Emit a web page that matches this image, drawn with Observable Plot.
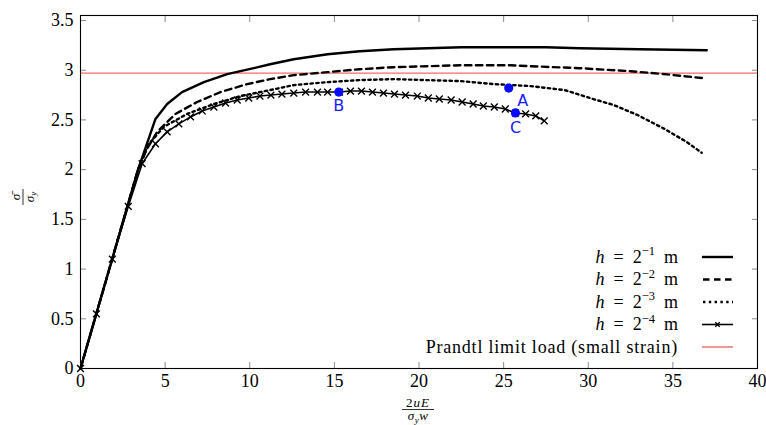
<!DOCTYPE html>
<html><head><meta charset="utf-8">
<script src="https://cdn.jsdelivr.net/npm/d3@7"></script>
<script src="https://cdn.jsdelivr.net/npm/@observablehq/plot@0.6"></script>
<style>body{margin:0;background:#fff} svg{display:block}</style>
</head><body>
<script>
// ---- tick values / labels ----
const xTicks = [0, 5, 10, 15, 20, 25, 30, 35, 40];
const yTicks = [0, 0.5, 1, 1.5, 2, 2.5, 3, 3.5];
const yTickLabels = ["0", "0.5", "1", "1.5", "2", "2.5", "3", "3.5"];

// ---- series ----
const h1X = [0, 3.4, 4.43, 5.12, 6.0, 7.29, 8.67, 10.24, 11.2, 12.6, 14.6, 16.5, 18.5, 20.5, 22.5, 25.4, 27.5, 29.5, 33.0, 37.0];
const h1Y = [0, 2.0, 2.51, 2.66, 2.78, 2.88, 2.96, 3.02, 3.06, 3.11, 3.16, 3.19, 3.21, 3.22, 3.23, 3.23, 3.23, 3.22, 3.21, 3.20];

const h2X = [0, 3.4, 3.9, 4.53, 5.61, 6.89, 8.27, 9.85, 11.2, 12.6, 14.6, 16.5, 18.5, 20.5, 22.5, 25.4, 26.6, 29.5, 32.5, 34.5, 36.8];
const h2Y = [0, 2.0, 2.2, 2.38, 2.56, 2.68, 2.78, 2.86, 2.91, 2.95, 2.98, 3.01, 3.03, 3.04, 3.05, 3.05, 3.04, 3.02, 2.99, 2.96, 2.92];

const h3X = [0, 3.4, 4.0, 4.92, 6.3, 7.88, 9.45, 11.2, 12.6, 14.6, 16.5, 18.5, 20.5, 22.5, 24.4, 26.6, 28.6, 30.1, 31.5, 32.9, 34.5, 35.8, 36.7];
const h3Y = [0, 2.0, 2.25, 2.43, 2.56, 2.66, 2.74, 2.80, 2.85, 2.88, 2.90, 2.91, 2.90, 2.89, 2.86, 2.84, 2.80, 2.72, 2.65, 2.55, 2.41, 2.28, 2.17];

const h4X = [0, 0.94, 1.88, 2.82, 3.64, 4.43, 5.12, 5.81, 6.5, 7.19, 7.88, 8.57, 9.26, 9.94, 10.6, 11.25, 11.9, 12.6, 13.3, 14.0, 14.6, 15.3, 15.95, 16.6, 17.25, 17.9, 18.55, 19.2, 19.9, 20.55, 21.2, 21.9, 22.55, 23.2, 23.8, 24.45, 25.1, 25.7, 26.3, 26.9, 27.4];
const h4Y = [0, 0.55, 1.1, 1.63, 2.06, 2.26, 2.38, 2.46, 2.53, 2.59, 2.63, 2.67, 2.70, 2.72, 2.74, 2.75, 2.76, 2.77, 2.78, 2.78, 2.78, 2.78, 2.79, 2.79, 2.78, 2.77, 2.76, 2.75, 2.74, 2.72, 2.71, 2.70, 2.68, 2.66, 2.64, 2.63, 2.61, 2.57, 2.56, 2.54, 2.49];

const prandtl = 2.97;

const pointLabels = ["A", "B", "C"];
const pointX = [25.3, 15.26, 25.7];
const pointY = [2.82, 2.78, 2.57];

const legendExps = ["−1", "−2", "−3", "−4"];
const legendPrandtl = "Prandtl limit load (small strain)";

// ---- build tables ----
const toRows = (xs, ys) => xs.map((x, i) => ({x, y: ys[i]}));
const rows1 = toRows(h1X, h1Y), rows2 = toRows(h2X, h2Y), rows3 = toRows(h3X, h3Y), rows4 = toRows(h4X, h4Y);
const pts = pointLabels.map((l, i) => ({label: l, x: pointX[i], y: pointY[i]}));

const tickStroke = "#8a8a8a";
const serif = "'Liberation Serif', 'DejaVu Serif', serif";
const sans = "'DejaVu Sans', sans-serif";
const blue = "#1a1aff";

const chart = Plot.plot({
  width: 766, height: 425,
  marginLeft: 80, marginRight: 9, marginTop: 15, marginBottom: 57,
  style: {fontFamily: serif, fontSize: "18px", background: "white", color: "black", overflow: "visible"},
  x: {domain: [0, 40]},
  y: {domain: [0, 3.55]},
  marks: [
    // inward ticks on all sides
    Plot.axisX(xTicks, {anchor: "bottom", tickSize: -6, tickFormat: () => "", label: null, stroke: tickStroke}),
    Plot.axisX(xTicks, {anchor: "top", tickSize: -6, tickFormat: () => "", label: null, stroke: tickStroke}),
    Plot.axisY(yTicks, {anchor: "left", tickSize: -6, tickFormat: () => "", label: null, stroke: tickStroke}),
    Plot.axisY(yTicks, {anchor: "right", tickSize: -6, tickFormat: () => "", label: null, stroke: tickStroke}),
    // tick labels
    Plot.axisX(xTicks, {anchor: "bottom", tickSize: 0, tickPadding: 6, label: null, fontSize: 18, tickFormat: d => String(d)}),
    Plot.axisY(yTicks, {anchor: "left", tickSize: 0, tickPadding: 7, label: null, fontSize: 18, tickFormat: (d, i) => yTickLabels[i]}),
    Plot.ruleY([prandtl], {stroke: "#f36b6b", strokeWidth: 1.4}),
    Plot.line(rows1, {x: "x", y: "y", stroke: "black", strokeWidth: 2.4}),
    Plot.line(rows2, {x: "x", y: "y", stroke: "black", strokeWidth: 2.4, strokeDasharray: "6.5,4.5"}),
    Plot.line(rows3, {x: "x", y: "y", stroke: "black", strokeWidth: 2.4, strokeDasharray: "2.4,3.4"}),
    Plot.line(rows4, {x: "x", y: "y", stroke: "black", strokeWidth: 1.6}),
    Plot.dot(rows4, {x: "x", y: "y", symbol: "times", r: 3.2, stroke: "black", strokeWidth: 1.4}),
    Plot.dot(pts, {x: "x", y: "y", r: 4.6, fill: "#0a0aff", stroke: "none"}),
    Plot.text(pts.filter(d => d.label === "A"), {x: "x", y: "y", text: "label", dx: 14, dy: 13, fill: blue, fontSize: 16, fontFamily: sans}),
    Plot.text(pts.filter(d => d.label === "B"), {x: "x", y: "y", text: "label", dx: 0, dy: 14, fill: blue, fontSize: 16, fontFamily: sans}),
    Plot.text(pts.filter(d => d.label === "C"), {x: "x", y: "y", text: "label", dx: 0, dy: 15, fill: blue, fontSize: 16, fontFamily: sans}),
    Plot.frame({stroke: "black", strokeWidth: 1.1})
  ]
});
document.body.appendChild(chart);

// ---- axis labels (fractions) and legend ----
const svg = d3.select(chart);

// x label: 2uE / (σ_y w)
const xl = svg.append("g").attr("transform", "translate(418,409.5)").attr("font-family", serif).attr("font-size", 13).attr("text-anchor", "middle");
const xn = xl.append("text").attr("y", -3).attr("letter-spacing", 1);
xn.append("tspan").text("2");
xn.append("tspan").attr("font-style", "italic").text("uE");
xl.append("line").attr("x1", -16).attr("x2", 16).attr("stroke", "black").attr("stroke-width", 0.8);
const xd = xl.append("text").attr("y", 10.5).attr("letter-spacing", 0.5);
xd.append("tspan").attr("font-style", "italic").text("σ");
xd.append("tspan").attr("font-style", "italic").attr("font-size", 9).attr("dy", 2.5).text("y");
xd.append("tspan").attr("font-style", "italic").attr("dy", -2.5).text("w");

// y label: σ̄ / σ_y (rotated)
const yl = svg.append("g").attr("transform", "translate(23,197) rotate(-90)").attr("font-family", serif).attr("font-size", 13).attr("text-anchor", "middle");
yl.append("text").attr("y", -3).attr("font-style", "italic").text("σ\u0304");
yl.append("line").attr("x1", -8).attr("x2", 8).attr("stroke", "black").attr("stroke-width", 0.8);
const yd = yl.append("text").attr("y", 10.5);
yd.append("tspan").attr("font-style", "italic").text("σ");
yd.append("tspan").attr("font-style", "italic").attr("font-size", 9).attr("dy", 2.5).text("y");

// legend
const lg = svg.append("g").attr("font-family", serif).attr("font-size", 18);
const rowY = [257, 279.5, 302, 324.5, 347];
legendExps.forEach((e, i) => {
  const t = lg.append("text").attr("x", 678).attr("y", rowY[i] + 5.5).attr("text-anchor", "end");
  t.append("tspan").attr("font-style", "italic").text("h");
  t.append("tspan").text("\u2002=\u20022");
  t.append("tspan").attr("font-size", 12.5).attr("dy", -7.5).text(e);
  t.append("tspan").attr("dy", 7.5).text("\u2002m");
});
lg.append("text").attr("x", 678).attr("y", rowY[4] + 5.5).attr("text-anchor", "end").attr("letter-spacing", 0.8).text(legendPrandtl);

const sx1 = 702, sx2 = 733;
lg.append("line").attr("x1", sx1).attr("x2", sx2).attr("y1", rowY[0]).attr("y2", rowY[0]).attr("stroke", "black").attr("stroke-width", 2.4);
lg.append("line").attr("x1", sx1 + 1).attr("x2", sx2).attr("y1", rowY[1]).attr("y2", rowY[1]).attr("stroke", "black").attr("stroke-width", 2.4).attr("stroke-dasharray", "6.5,4.5");
lg.append("line").attr("x1", sx1 + 1).attr("x2", sx2).attr("y1", rowY[2]).attr("y2", rowY[2]).attr("stroke", "black").attr("stroke-width", 2.4).attr("stroke-dasharray", "2.4,3.4");
lg.append("line").attr("x1", sx1).attr("x2", sx2).attr("y1", rowY[3]).attr("y2", rowY[3]).attr("stroke", "black").attr("stroke-width", 1.6);
const mx = (sx1 + sx2) / 2, my = rowY[3], m = 3.2 * 0.7;
lg.append("path").attr("d", `M${mx - m},${my - m}L${mx + m},${my + m}M${mx - m},${my + m}L${mx + m},${my - m}`).attr("stroke", "black").attr("stroke-width", 1.4);
lg.append("line").attr("x1", sx1).attr("x2", sx2).attr("y1", rowY[4]).attr("y2", rowY[4]).attr("stroke", "#f36b6b").attr("stroke-width", 1.4);
</script>
</body></html>
